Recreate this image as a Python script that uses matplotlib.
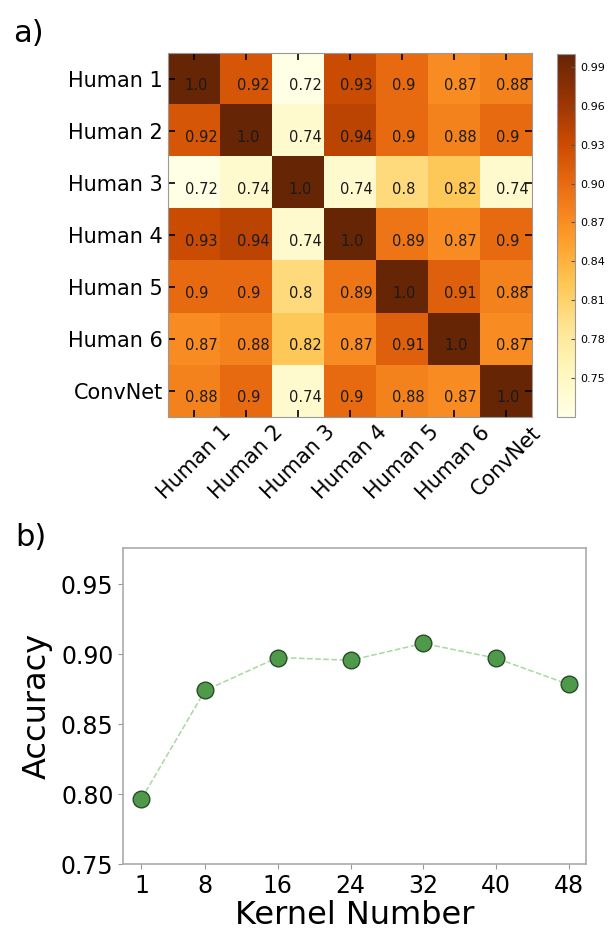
import matplotlib
matplotlib.use("Agg")
import matplotlib.pyplot as plt
import numpy as np

labels = ["Human 1", "Human 2", "Human 3", "Human 4", "Human 5", "Human 6", "ConvNet"]
row_h1 = [1.0, 0.92, 0.72, 0.93, 0.9, 0.87, 0.88]
row_h2 = [0.92, 1.0, 0.74, 0.94, 0.9, 0.88, 0.9]
row_h3 = [0.72, 0.74, 1.0, 0.74, 0.8, 0.82, 0.74]
row_h4 = [0.93, 0.94, 0.74, 1.0, 0.89, 0.87, 0.9]
row_h5 = [0.9, 0.9, 0.8, 0.89, 1.0, 0.91, 0.88]
row_h6 = [0.87, 0.88, 0.82, 0.87, 0.91, 1.0, 0.87]
row_cn = [0.88, 0.9, 0.74, 0.9, 0.88, 0.87, 1.0]
cbar_ticks = [0.75, 0.78, 0.81, 0.84, 0.87, 0.90, 0.93, 0.96, 0.99]

kernels = [1, 8, 16, 24, 32, 40, 48]
accuracy = [0.7965, 0.874, 0.8975, 0.8955, 0.9076, 0.897, 0.8783]
acc_ticks = [0.75, 0.80, 0.85, 0.90, 0.95]

W, H = 611, 932
fig = plt.figure(figsize=(W / 100, H / 100), dpi=100)

def rect(l, t, r, b):
    return [l / W, 1 - b / H, (r - l) / W, (b - t) / H]

# ---- a) heatmap
mat = np.array([row_h1, row_h2, row_h3, row_h4, row_h5, row_h6, row_cn])
ax1 = fig.add_axes(rect(168, 53.3, 531.7, 417.3))
im = ax1.imshow(mat, cmap="YlOrBr", vmin=0.72, vmax=1.0, aspect="auto",
                interpolation="nearest")
for i in range(mat.shape[0]):
    for j in range(mat.shape[1]):
        ax1.text(j - 0.18, i + 0.11, f"{mat[i, j]}", ha="left", va="center",
                 fontsize=10.5, color="#1a1a1a")
ax1.set_xticks(range(len(labels)))
ax1.set_xticklabels(labels, rotation=45, ha="center", fontsize=15)
ax1.set_yticks(range(len(labels)))
ax1.set_yticklabels(labels, fontsize=15)
ax1.tick_params(direction="in", length=5, width=1.2, top=True, right=True,
                color="black")
for s in ax1.spines.values():
    s.set_color("#999999")

cax = fig.add_axes(rect(557.3, 54, 575, 416.7))
cb = fig.colorbar(im, cax=cax, ticks=cbar_ticks)
cb.ax.set_yticklabels([f"{t:.2f}" for t in cbar_ticks])
cb.ax.tick_params(direction="in", length=3, width=0.8, labelsize=8, color="#555555")
cb.outline.set_edgecolor("#999999")

fig.text(13 / W, 1 - 33 / H, "a)", fontsize=22, va="center", ha="left")

# ---- b) accuracy
ax2 = fig.add_axes(rect(123.3, 548.3, 586, 864))
ax2.plot(kernels, accuracy, linestyle="--", color="#a6d9a0", linewidth=1.1,
         zorder=1)
ax2.plot(kernels, accuracy, linestyle="none", marker="o", markersize=12,
         markerfacecolor="#4f9a4a", markeredgecolor="#2a4a2a",
         markeredgewidth=1.0, zorder=2)
ax2.set_xlim(-1.0, 49.9)
ax2.set_ylim(0.75, 0.9755)
ax2.set_xticks(kernels)
ax2.set_yticks(acc_ticks)
ax2.set_yticklabels([f"{t:.2f}" for t in acc_ticks])
ax2.tick_params(labelsize=17, color="#999999", length=3.5, width=0.8)
ax2.set_xlabel("Kernel Number", fontsize=23, labelpad=2)
ax2.set_ylabel("Accuracy", fontsize=23, labelpad=6)
for s in ax2.spines.values():
    s.set_color("#aaaaaa")
    s.set_linewidth(1.2)

fig.text(15 / W, 1 - 537 / H, "b)", fontsize=22, va="center", ha="left")

fig.savefig("out.png", dpi=100)
